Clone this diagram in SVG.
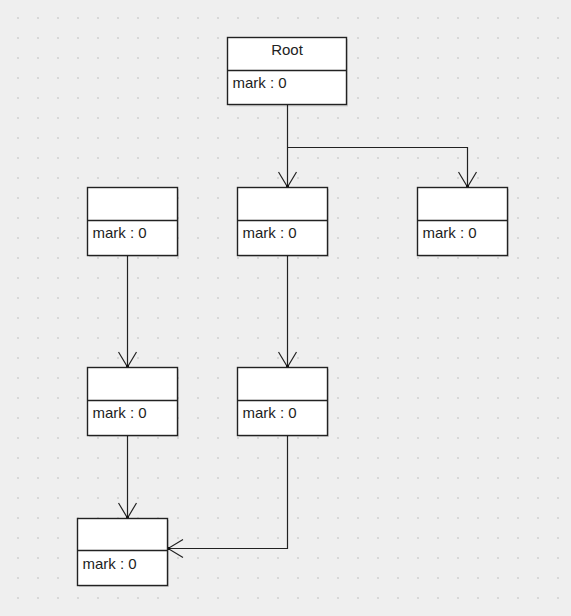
<svg xmlns="http://www.w3.org/2000/svg" width="571" height="616" viewBox="0 0 571 616">
<defs>
<pattern id="grid" x="0" y="0" width="20" height="20" patternUnits="userSpaceOnUse">
<circle cx="18" cy="18" r="1.1" fill="#d2d2d2"/>
</pattern>
<marker id="arr" viewBox="-1 -10 17 20" refX="15" refY="0" markerWidth="17" markerHeight="20" markerUnits="userSpaceOnUse" orient="auto">
<path d="M0,-9 L15,0 L0,9" fill="none" stroke="#222" stroke-width="1.2"/>
<rect x="13" y="-1.5" width="3" height="3" fill="#111"/>
</marker>
</defs>
<style>
.box{fill:#fff;stroke:#222;stroke-width:1.4}
.div{stroke:#222;stroke-width:1.4}
.sh{fill:#000;opacity:0.12}
.t{font-family:"Liberation Sans",Arial,sans-serif;font-size:15px;fill:#222}
.c{fill:none;stroke:#222;stroke-width:1.2}
</style>
<rect width="571" height="616" fill="#efefef"/>
<rect width="571" height="616" fill="url(#grid)"/>
<g id="connectors">
<path class="c" d="M287.5,105 L287.5,187" marker-end="url(#arr)"/>
<path class="c" d="M287.5,147.5 L467.5,147.5 L467.5,187" marker-end="url(#arr)"/>
<path class="c" d="M287.5,256 L287.5,367" marker-end="url(#arr)"/>
<path class="c" d="M127.5,256 L127.5,367" marker-end="url(#arr)"/>
<path class="c" d="M127.5,436 L127.5,518" marker-end="url(#arr)"/>
<path class="c" d="M287.5,436 L287.5,548.5 L168,548.5" marker-end="url(#arr)"/>
</g>
<g id="root">
<rect class="sh" x="229" y="39" width="119" height="67.5"/>
<rect class="box" x="227.5" y="37.5" width="119" height="67"/>
<line class="div" x1="227.5" y1="70.5" x2="346.5" y2="70.5"/>
<text class="t" x="287" y="55" text-anchor="middle">Root</text>
<text class="t" x="232.5" y="88">mark : 0</text>
</g>
<g id="n1">
<rect class="sh" x="89" y="189" width="90" height="68"/>
<rect class="box" x="87.5" y="187.5" width="90" height="68"/>
<line class="div" x1="87.5" y1="220.5" x2="177.5" y2="220.5"/>
<text class="t" x="92.5" y="238">mark : 0</text>
</g>
<g id="n2">
<rect class="sh" x="239" y="189" width="90" height="68"/>
<rect class="box" x="237.5" y="187.5" width="90" height="68"/>
<line class="div" x1="237.5" y1="220.5" x2="327.5" y2="220.5"/>
<text class="t" x="242.5" y="238">mark : 0</text>
</g>
<g id="n3">
<rect class="sh" x="419" y="189" width="90" height="68"/>
<rect class="box" x="417.5" y="187.5" width="90" height="68"/>
<line class="div" x1="417.5" y1="220.5" x2="507.5" y2="220.5"/>
<text class="t" x="422.5" y="238">mark : 0</text>
</g>
<g id="n4">
<rect class="sh" x="89" y="369" width="90" height="68"/>
<rect class="box" x="87.5" y="367.5" width="90" height="68"/>
<line class="div" x1="87.5" y1="400.5" x2="177.5" y2="400.5"/>
<text class="t" x="92.5" y="418">mark : 0</text>
</g>
<g id="n5">
<rect class="sh" x="239" y="369" width="90" height="68"/>
<rect class="box" x="237.5" y="367.5" width="90" height="68"/>
<line class="div" x1="237.5" y1="400.5" x2="327.5" y2="400.5"/>
<text class="t" x="242.5" y="418">mark : 0</text>
</g>
<g id="n6">
<rect class="sh" x="79" y="520" width="90" height="67"/>
<rect class="box" x="77.5" y="518.5" width="90" height="67"/>
<line class="div" x1="77.5" y1="550.5" x2="167.5" y2="550.5"/>
<text class="t" x="82.5" y="569">mark : 0</text>
</g>
</svg>
